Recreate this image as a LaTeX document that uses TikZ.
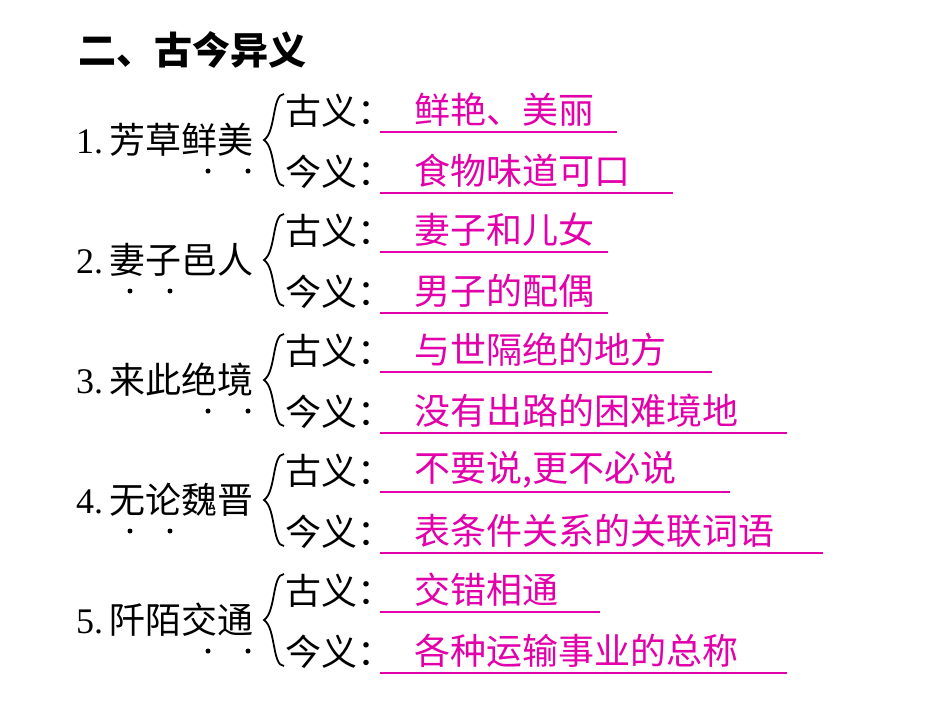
\documentclass[tikz,border=0pt]{standalone}
\usepackage{fontspec}
\setmainfont{Liberation Serif}
\newfontfamily\cjk{Noto Sans CJK SC}
\definecolor{mag}{RGB}{225,0,170}
\begin{document}
\begin{tikzpicture}[x=1pt,y=-1pt,
 lab/.style={anchor=west,inner sep=0pt,font=\fontsize{36}{36}\selectfont},
 ans/.style={anchor=west,inner sep=0pt,text=mag,font=\cjk\fontsize{36}{36}\selectfont},
 uline/.style={mag,line width=1.3pt},
 emdot/.style={circle,fill=black,inner sep=0pt,minimum size=5pt}]
\useasboundingbox (0,0) rectangle (950,713);
\node[lab,font=\cjk\bfseries\fontsize{38}{38}\selectfont] (title) at (78,50) {二、古今异义};
\foreach \i/\name/\a/\b/\ea/\eb/\da/\db in {
 0/芳草鲜美/鲜艳、美丽/食物味道可口/617/673/208/248,
 1/妻子邑人/妻子和儿女/男子的配偶/608/608/130/170,
 2/来此绝境/与世隔绝的地方/没有出路的困难境地/712/787/208/248,
 3/无论魏晋/{不要说,更不必说}/表条件关系的关联词语/730/823/130/170,
 4/阡陌交通/交错相通/各种运输事业的总称/600/787/208/248}{
 \pgfmathsetmacro\y{140+120*\i}
 \pgfmathtruncatemacro\n{\i+1}
 \node[lab] (item\i) at (76,\y) {\n.\hspace{6pt}{\cjk\name}};
 \node[emdot] (d\i a) at (\da,\y+31) {};
 \node[emdot] (d\i b) at (\db,\y+31) {};
 \draw[line width=1.8pt] (284,\y-46) .. controls (272,\y-46) and (276,\y-8) .. (264,\y)
   .. controls (276,\y+8) and (272,\y+46) .. (284,\y+46);
 \node[lab,font=\cjk\fontsize{36}{36}\selectfont] (g\i) at (285,\y-29) {古义：};
 \node[lab,font=\cjk\fontsize{36}{36}\selectfont] (j\i) at (285,\y+32) {今义：};
 \node[ans] (ga\i) at (414,\y-30) {\a};
 \node[ans] (ja\i) at (414,\y+31) {\b};
 \coordinate (gs\i) at (380,\y-8);
 \coordinate (ge\i) at (\ea,\y-8);
 \coordinate (js\i) at (380,\y+53);
 \coordinate (je\i) at (\eb,\y+53);
 \draw[uline] (gs\i) -- (ge\i);
 \draw[uline] (js\i) -- (je\i);
}
\end{tikzpicture}
\end{document}
